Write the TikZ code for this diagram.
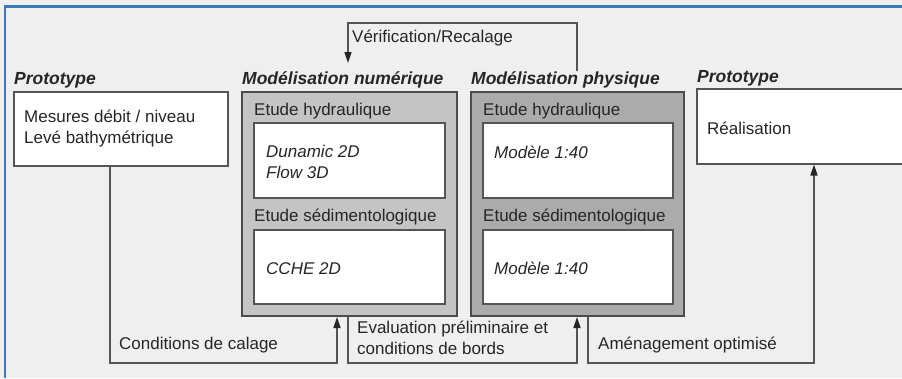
\documentclass[tikz,border=0pt]{standalone}
\usepackage{fontspec}
\setmainfont{Liberation Sans}
\usetikzlibrary{arrows.meta,calc,positioning}
\definecolor{bgcol}{HTML}{EFEFEF}
\definecolor{linecol}{HTML}{555555}
\definecolor{numcol}{HTML}{C4C4C4}
\definecolor{phycol}{HTML}{ABABAB}
\definecolor{framecol}{HTML}{3A7AB8}
\tikzstyle{whitebox} = [draw=linecol, line width=1.5pt, fill=white, anchor=north west,
inner sep=0pt]
\tikzstyle{graybox} = [draw=linecol!90!black, line width=2pt, anchor=north west,
inner sep=0pt]
\tikzstyle{txt} = [anchor=west, inner sep=0pt, align=left, text=black!85]
\tikzstyle{title} = [txt, font=\fontsize{17.5}{21}\selectfont\bfseries\itshape]
\tikzstyle{link} = [linecol, line width=1.5pt,
-{Triangle[length=11pt,width=7pt,color=black!85]}]

\begin{document}
\begin{tikzpicture}[x=1pt, y=-1pt, font=\fontsize{17}{21}\selectfont]
            \useasboundingbox (0,0) rectangle (902,378);
            \fill[bgcol] (0,0) rectangle (902,378);
            \draw[framecol, line width=2.5pt] (5,378) -- (5,6.5) -- (902,6.5);
            % prototype (mesures)
            \node[title] (protoLt) at (14,80) {Prototype};
            \node[whitebox, minimum width=214pt, minimum height=74pt] (protoL) at (13,91) {};
            \node[txt] (mesures) at (24,128.5) {Mesures débit / niveau\\Levé bathymétrique};
            % modelisation numerique
            \node[title] (numt) at (242,80) {Modélisation numérique};
            \node[graybox, fill=numcol, minimum width=215pt, minimum height=224pt] (numBox) at (241,91) {};
            \node[txt] (numHydt) at (254,111) {Etude hydraulique};
            \node[whitebox, minimum width=191pt, minimum height=75pt] (numHyd) at (253,122) {};
            \node[txt, font=\fontsize{17}{21}\selectfont\itshape] (dunamic) at (266,162) {Dunamic 2D\\Flow 3D};
            \node[txt] (numSedt) at (254,217) {Etude sédimentologique};
            \node[whitebox, minimum width=191pt, minimum height=74pt] (numSed) at (253,229) {};
            \node[txt, font=\fontsize{17}{21}\selectfont\itshape] (cche) at (266,269) {CCHE 2D};
            % modelisation physique
            \node[title] (phyt) at (471,80) {Modélisation physique};
            \node[graybox, fill=phycol, minimum width=213pt, minimum height=224pt] (phyBox) at (470,91) {};
            \node[txt] (phyHydt) at (483,111) {Etude hydraulique};
            \node[whitebox, minimum width=190pt, minimum height=75pt] (phyHyd) at (482,122) {};
            \node[txt, font=\fontsize{17}{21}\selectfont\itshape] (phyHydm) at (494,152) {Modèle 1:40};
            \node[txt] (phySedt) at (483,217) {Etude sédimentologique};
            \node[whitebox, minimum width=190pt, minimum height=74pt] (phySed) at (482,229) {};
            \node[txt, font=\fontsize{17}{21}\selectfont\itshape] (phySedm) at (494,268) {Modèle 1:40};
            % prototype (realisation)
            \node[title] (protoRt) at (697,78) {Prototype};
            \node[whitebox, minimum width=220pt, minimum height=75pt] (protoR) at (696,88) {};
            \node[txt] (realis) at (707,128) {Réalisation};
            % verification / recalage
            \coordinate (verA) at (577,23);
            \coordinate (verB) at (348,23);
            \draw[link] (verA |- phyt.north) ++(0,-1) -- (verA) -- (verB) -- ++(0,40);
            \node[txt] (verif) at (352,38) {Vérification/Recalage};
            % liaisons du bas
            \coordinate (calA) at (110,363);
            \coordinate (calB) at (337,363);
            \draw[link] (calA |- protoL.south) -- (calA) -- (calB) -- (calB |- numBox.south);
            \node[txt] (calage) at (119,345) {Conditions de calage};
            \coordinate (evaA) at (348,363);
            \coordinate (evaB) at (577,363);
            \draw[link] (evaA |- numBox.south) -- (evaA) -- (evaB) -- (evaB |- phyBox.south);
            \node[txt] (evalu) at (357,338) {Evaluation préliminaire et\\conditions de bords};
            \coordinate (amA) at (588,363);
            \coordinate (amB) at (814,363);
            \draw[link] (amA |- phyBox.south) -- (amA) -- (amB) -- (amB |- protoR.south);
            \node[txt] (amenag) at (598,345) {Aménagement optimisé};
        \end{tikzpicture}
\end{document}
